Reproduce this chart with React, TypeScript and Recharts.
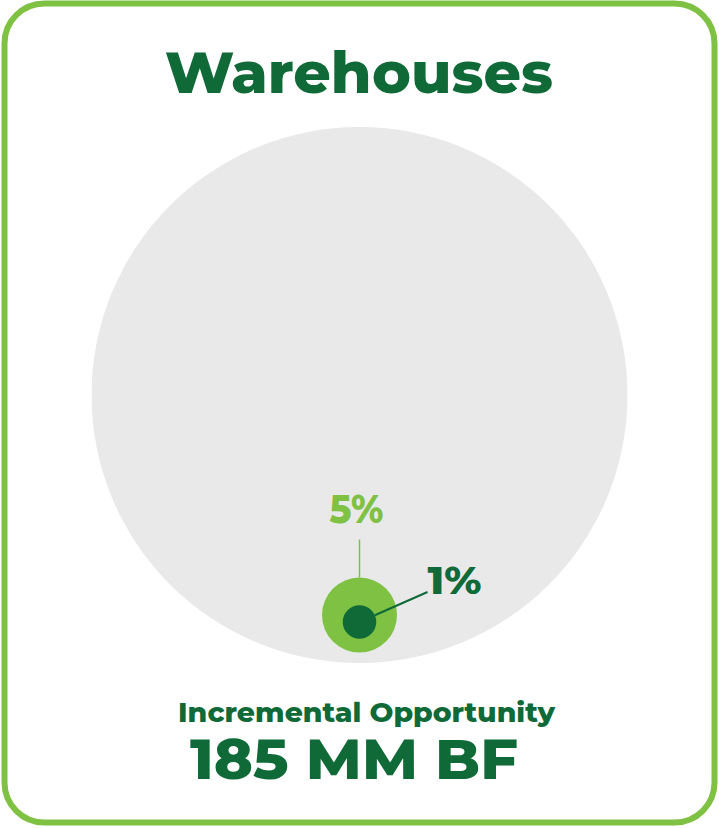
import React from "react";
import { ScatterChart, Scatter, XAxis, YAxis, ZAxis } from "recharts";

// chart values
const title = "Warehouses";
const segments = ["Warehouse market", "Addressable", "Current"];
const totalShare = [100];
const shares = [5, 1];
const shareLabels = ["5%", "1%"];
const footerLabel = "Incremental Opportunity";
const footerValue = "185 MM BF";

const LIGHT = "#7fc143";
const DARK = "#0f6a37";
const GREY = "#e9e9e9";
const FONT = "Montserrat, Inter, 'Open Sans', sans-serif";

// bubble anchor in units of the big circle's radius
const ANCHOR = [
  { x: 0, y: -0.821 },
  { x: 0, y: -0.847 },
];

const bgData = [{ name: segments[0], x: 0, y: 0, z: totalShare[0] }];
const shareData = shares.map((s, i) => ({
  name: segments[i + 1],
  x: ANCHOR[i].x,
  y: ANCHOR[i].y,
  z: s,
  label: shareLabels[i],
}));

function radiusOf(p: any) {
  return p.size != null ? Math.sqrt(p.size / Math.PI) : p.width / 2;
}

const BgShape = (p: any) => <circle cx={p.cx} cy={p.cy} r={radiusOf(p)} fill={GREY} />;

// 5% : leader goes straight up
const OuterShape = (p: any) => {
  const r = radiusOf(p);
  const top = p.cy - r;
  return (
    <g>
      <circle cx={p.cx} cy={p.cy} r={r} fill={LIGHT} />
      <line x1={p.cx} y1={top} x2={p.cx} y2={top - 38} stroke={LIGHT} strokeWidth={1.5} />
      <text
        x={p.cx - 3}
        y={top - 55}
        textAnchor="middle"
        fill={LIGHT}
        fontFamily={FONT}
        fontWeight={800}
        fontSize={39}
        textLength={54}
        lengthAdjust="spacingAndGlyphs"
      >
        {p.payload.label}
      </text>
    </g>
  );
};

// 1% : leader goes up and to the right
const InnerShape = (p: any) => {
  const r = radiusOf(p);
  const dx = 68;
  const dy = -30;
  const len = Math.hypot(dx, dy);
  return (
    <g>
      <circle cx={p.cx} cy={p.cy} r={r} fill={DARK} />
      <line
        x1={p.cx + (dx / len) * r}
        y1={p.cy + (dy / len) * r}
        x2={p.cx + dx}
        y2={p.cy + dy}
        stroke={DARK}
        strokeWidth={2}
      />
      <text
        x={p.cx + dx}
        y={p.cy + dy + 2}
        fill={DARK}
        fontFamily={FONT}
        fontWeight={800}
        fontSize={37}
        textLength={54}
        lengthAdjust="spacingAndGlyphs"
      >
        {p.payload.label}
      </text>
    </g>
  );
};

export default function App() {
  return (
    <div style={{ position: "absolute", left: 0, top: 0, width: 719, height: 828, background: "#fff" }}>
      <svg width={719} height={828} style={{ position: "absolute", left: 0, top: 0 }}>
        <rect x={4.5} y={3.5} width={710} height={819} rx={40} fill="#fff" stroke={LIGHT} strokeWidth={6} />
        <text
          x={359}
          y={93}
          textAnchor="middle"
          fill={DARK}
          fontFamily={FONT}
          fontWeight={800}
          fontSize={57}
          textLength={388}
          lengthAdjust="spacingAndGlyphs"
        >
          {title}
        </text>
        <text
          x={366.5}
          y={722}
          textAnchor="middle"
          fill={DARK}
          fontFamily={FONT}
          fontWeight={800}
          fontSize={27}
          textLength={377}
          lengthAdjust="spacingAndGlyphs"
        >
          {footerLabel}
        </text>
        <text
          x={354}
          y={779}
          textAnchor="middle"
          fill={DARK}
          fontFamily={FONT}
          fontWeight={800}
          fontSize={56}
          textLength={328}
          lengthAdjust="spacingAndGlyphs"
        >
          {footerValue}
        </text>
      </svg>
      <div style={{ position: "absolute", left: 0, top: 0 }}>
        <ScatterChart width={719} height={828} margin={{ top: 127, right: 91.5, bottom: 165, left: 91.5 }}>
          <XAxis type="number" dataKey="x" domain={[-1, 1]} hide allowDataOverflow />
          <YAxis type="number" dataKey="y" domain={[-1, 1]} hide allowDataOverflow />
          <ZAxis zAxisId="bg" type="number" dataKey="z" domain={[0, 100]} range={[0, Math.PI * 268 * 268]} />
          <ZAxis zAxisId="share" type="number" dataKey="z" domain={[0, 5]} range={[0, Math.PI * 37.5 * 37.5]} />
          <Scatter data={bgData} zAxisId="bg" shape={BgShape} isAnimationActive={false} />
          <Scatter data={shareData.slice(0, 1)} zAxisId="share" shape={OuterShape} isAnimationActive={false} />
          <Scatter data={shareData.slice(1)} zAxisId="share" shape={InnerShape} isAnimationActive={false} />
        </ScatterChart>
      </div>
    </div>
  );
}
